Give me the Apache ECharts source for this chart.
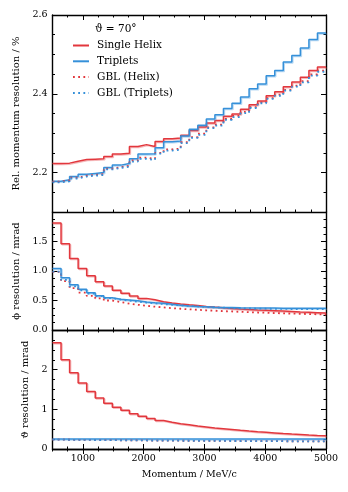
<!DOCTYPE html>
<html><head><meta charset="utf-8">
<script src="https://cdn.jsdelivr.net/npm/echarts@6/dist/echarts.min.js"></script>
<style>html,body{margin:0;padding:0;background:#fff}#c{width:348px;height:492px}</style>
</head><body><div id="c"></div>
<script>
const binEdges = [500, 640.6, 781.3, 921.9, 1062.5, 1203.1, 1343.8, 1484.4, 1625, 1765.6, 1906.3, 2046.9, 2187.5, 2328.1, 2468.8, 2609.4, 2750, 2890.6, 3031.3, 3171.9, 3312.5, 3453.1, 3593.8, 3734.4, 3875, 4015.6, 4156.3, 4296.9, 4437.5, 4578.1, 4718.8, 4859.4, 5000];
const seriesNames = ['Single Helix', 'Triplets', 'GBL (Helix)', 'GBL (Triplets)'];
const momHelix = [2.223, 2.224, 2.229, 2.233, 2.234, 2.235, 2.241, 2.247, 2.249, 2.266, 2.271, 2.266, 2.279, 2.286, 2.288, 2.295, 2.307, 2.316, 2.326, 2.332, 2.343, 2.349, 2.361, 2.372, 2.382, 2.395, 2.405, 2.418, 2.430, 2.442, 2.459, 2.468];
const momTriplets = [2.178, 2.182, 2.190, 2.196, 2.198, 2.200, 2.213, 2.219, 2.223, 2.235, 2.247, 2.248, 2.263, 2.278, 2.280, 2.293, 2.310, 2.320, 2.336, 2.347, 2.363, 2.376, 2.392, 2.413, 2.425, 2.446, 2.459, 2.481, 2.497, 2.516, 2.538, 2.554];
const momGblHelix = [2.177, 2.180, 2.187, 2.192, 2.194, 2.196, 2.210, 2.214, 2.217, 2.231, 2.238, 2.235, 2.250, 2.259, 2.261, 2.277, 2.290, 2.299, 2.315, 2.322, 2.336, 2.344, 2.354, 2.366, 2.378, 2.389, 2.398, 2.410, 2.421, 2.432, 2.449, 2.459];
const momGblTriplets = [2.175, 2.178, 2.185, 2.190, 2.192, 2.194, 2.208, 2.212, 2.215, 2.228, 2.235, 2.232, 2.248, 2.256, 2.258, 2.275, 2.288, 2.296, 2.313, 2.319, 2.334, 2.341, 2.351, 2.364, 2.376, 2.387, 2.395, 2.408, 2.418, 2.429, 2.446, 2.456];
const phiHelix = [1.815, 1.46, 1.212, 1.043, 0.92, 0.816, 0.746, 0.675, 0.624, 0.576, 0.536, 0.511, 0.48, 0.457, 0.44, 0.426, 0.414, 0.400, 0.388, 0.377, 0.366, 0.357, 0.349, 0.341, 0.334, 0.327, 0.320, 0.313, 0.306, 0.300, 0.294, 0.288];
const phiTriplets = [1.043, 0.884, 0.765, 0.69, 0.632, 0.582, 0.548, 0.52, 0.51, 0.497, 0.475, 0.463, 0.452, 0.435, 0.418, 0.405, 0.398, 0.392, 0.387, 0.383, 0.380, 0.377, 0.375, 0.373, 0.372, 0.371, 0.370, 0.369, 0.368, 0.368, 0.367, 0.367];
const phiGblHelix = [0.985, 0.83, 0.71, 0.635, 0.578, 0.535, 0.50, 0.472, 0.448, 0.428, 0.41, 0.395, 0.382, 0.37, 0.36, 0.35, 0.342, 0.334, 0.327, 0.32, 0.314, 0.308, 0.302, 0.297, 0.292, 0.287, 0.282, 0.278, 0.274, 0.27, 0.266, 0.262];
const phiGblTriplets = [0.99, 0.85, 0.74, 0.67, 0.615, 0.575, 0.54, 0.515, 0.497, 0.48, 0.465, 0.452, 0.44, 0.428, 0.418, 0.408, 0.399, 0.391, 0.384, 0.378, 0.373, 0.369, 0.366, 0.363, 0.361, 0.359, 0.357, 0.356, 0.355, 0.354, 0.353, 0.352];
const thetaHelix = [2.68, 2.253, 1.92, 1.661, 1.45, 1.284, 1.156, 1.055, 0.975, 0.89, 0.826, 0.771, 0.72, 0.677, 0.636, 0.61, 0.58, 0.555, 0.53, 0.51, 0.49, 0.47, 0.452, 0.435, 0.42, 0.405, 0.39, 0.377, 0.365, 0.353, 0.342, 0.332];
const thetaTriplets = [0.254, 0.254, 0.254, 0.254, 0.254, 0.254, 0.254, 0.254, 0.254, 0.254, 0.254, 0.254, 0.254, 0.254, 0.254, 0.254, 0.254, 0.254, 0.254, 0.254, 0.254, 0.254, 0.254, 0.254, 0.254, 0.254, 0.254, 0.254, 0.254, 0.254, 0.254, 0.254];
const thetaGblHelix = [0.235, 0.233, 0.231, 0.229, 0.227, 0.225, 0.223, 0.221, 0.219, 0.217, 0.215, 0.213, 0.212, 0.210, 0.209, 0.207, 0.206, 0.205, 0.204, 0.203, 0.202, 0.201, 0.200, 0.199, 0.198, 0.197, 0.196, 0.195, 0.194, 0.193, 0.192, 0.191];
const thetaGblTriplets = [0.235, 0.233, 0.231, 0.229, 0.227, 0.225, 0.223, 0.221, 0.219, 0.217, 0.215, 0.213, 0.212, 0.210, 0.209, 0.207, 0.206, 0.205, 0.204, 0.203, 0.202, 0.201, 0.200, 0.199, 0.198, 0.197, 0.196, 0.195, 0.194, 0.193, 0.192, 0.191];
const xMajorTicks = [1000, 2000, 3000, 4000, 5000];
const panels = [
  {name: 'Rel. momentum resolution / %', min: 2.1, max: 2.6, minor: 0.05, major: [2.2, 2.4, 2.6], labels: ['2.2', '2.4', '2.6'], gap: 26, data: [momHelix, momTriplets, momGblHelix, momGblTriplets]},
  {name: 'ϕ resolution / mrad', min: 0, max: 2.0, minor: 0.125, major: [0, 0.5, 1.0, 1.5, 2.0], labels: ['0.0', '0.5', '1.0', '1.5', ''], gap: 28, data: [phiHelix, phiTriplets, phiGblHelix, phiGblTriplets]},
  {name: 'ϑ resolution / mrad', min: 0, max: 3, minor: 0.25, major: [0, 1, 2, 3], labels: ['0', '1', '2', ''], gap: 15, data: [thetaHelix, thetaTriplets, thetaGblHelix, thetaGblTriplets]}
];
const grids = [{top: 15, height: 197}, {top: 212, height: 118}, {top: 330, height: 119}];

const RED = '#e2373d', BLUE = '#3590d9';
const FONT = 'DejaVu Serif';
const colors = [RED, BLUE, RED, BLUE];
const lineTypes = ['solid', 'solid', [1.8, 3.4], [1.8, 3.4]];

function steps(vals) {
  const pts = vals.map((v, i) => [binEdges[i], v]);
  pts.push([binEdges[vals.length], vals[vals.length - 1]]);
  return pts;
}

const xAxis = [], yAxis = [], series = [];
const axisLine = {show: true, lineStyle: {color: '#000', width: 1.4}};
panels.forEach((p, gi) => {
  const isBottom = gi === 2;
  ['bottom', 'top'].forEach(pos => {
    xAxis.push({type: 'value', gridIndex: gi, position: pos, min: 500, max: 5000, interval: 250,
      axisLine: axisLine, axisTick: {show: true, inside: true, length: 2.5, lineStyle: {color: '#000', width: 1}},
      axisLabel: {show: false}, splitLine: {show: false}});
    xAxis.push({type: 'value', gridIndex: gi, position: pos, min: 500, max: 5000, interval: 250,
      axisLine: {show: false},
      axisTick: {show: true, inside: true, length: 5, customValues: xMajorTicks, lineStyle: {color: '#000', width: 1}},
      axisLabel: {show: isBottom && pos === 'bottom', customValues: xMajorTicks, fontFamily: FONT, fontSize: 9.5, color: '#000', margin: 5,
        formatter: v => String(Math.round(v))},
      name: (isBottom && pos === 'bottom') ? 'Momentum / MeV/c' : '', nameLocation: 'middle', nameGap: 21,
      nameTextStyle: {fontFamily: FONT, fontSize: 9.5, color: '#000'},
      splitLine: {show: false}});
  });
  ['left', 'right'].forEach(pos => {
    yAxis.push({type: 'value', gridIndex: gi, position: pos, min: p.min, max: p.max, interval: p.minor,
      axisLine: axisLine, axisTick: {show: true, inside: true, length: 2.5, lineStyle: {color: '#000', width: 1}},
      axisLabel: {show: false}, splitLine: {show: false}});
    yAxis.push({type: 'value', gridIndex: gi, position: pos, min: p.min, max: p.max, interval: p.minor,
      axisLine: {show: false},
      axisTick: {show: true, inside: true, length: 5, customValues: p.major, lineStyle: {color: '#000', width: 1}},
      axisLabel: {show: pos === 'left', customValues: p.major, fontFamily: FONT, fontSize: 9.5, color: '#000', margin: 5,
        formatter: v => { const i = p.major.findIndex(m => Math.abs(m - v) < 1e-6); return i >= 0 ? p.labels[i] : ''; }},
      name: pos === 'left' ? p.name : '', nameLocation: 'middle', nameGap: p.gap, nameRotate: 90,
      nameTextStyle: {fontFamily: FONT, fontSize: 10, color: '#000'},
      splitLine: {show: false}});
  });
  p.data.forEach((vals, si) => {
    series.push({
      type: 'line', name: seriesNames[si], xAxisIndex: gi * 4, yAxisIndex: gi * 4,
      data: steps(vals), step: 'end', symbol: 'none', showSymbol: false, animation: false,
      color: colors[si],
      lineStyle: {color: colors[si], width: si < 2 ? 1.5 : 1.8, type: lineTypes[si],
        shadowColor: si < 2 ? (si === 0 ? 'rgba(226,55,61,0.35)' : 'rgba(53,144,217,0.35)') : 'rgba(0,0,0,0)',
        shadowOffsetX: 1, shadowOffsetY: 1, shadowBlur: 0}
    });
  });
});

const chart = echarts.init(document.getElementById('c'), null, {renderer: 'canvas'});
chart.setOption({
  animation: false,
  backgroundColor: '#fff',
  grid: grids.map(g => ({left: 52.5, right: 22, top: g.top, height: g.height})),
  xAxis: xAxis, yAxis: yAxis, series: series,
  legend: {
    orient: 'vertical', left: 72, top: 40, padding: 0, itemWidth: 16, itemHeight: 12, itemGap: 4.8,
    data: seriesNames,
    itemStyle: {opacity: 0, borderWidth: 0, color: 'rgba(0,0,0,0)'},
    textStyle: {fontFamily: FONT, fontSize: 10.5, color: '#000', padding: [0, 0, 0, 3]}
  },
  graphic: [{type: 'text', left: 95, top: 24, style: {text: 'ϑ = 70°', font: '10.5px "DejaVu Serif"', fill: '#000'}}]
});
</script></body></html>
